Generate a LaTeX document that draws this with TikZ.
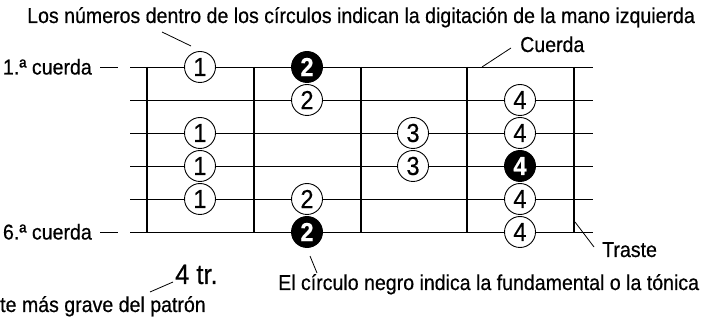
\documentclass[tikz,border=0pt]{standalone}
\usepackage{fontspec}
\setmainfont{Liberation Sans}[FakeStretch=0.91, FakeBold=0.5]
\begin{document}
\begin{tikzpicture}[x=1pt, y=-1pt,
    cuerda/.style={line width=0.9pt},
    traste/.style={line width=1.8pt},
    guia/.style={line width=0.8pt},
    dedo/.style={draw, circle, fill=white, line width=0.9pt, minimum size=31pt,
        inner sep=0pt, font=\fontsize{26}{26}\selectfont},
    raiz/.style={dedo, fill=black, text=white, font=\fontsize{26}{26}\selectfont\bfseries},
    texto/.style={inner sep=0pt, font=\fontsize{21.5}{24}\selectfont}]
    \useasboundingbox (0,0) rectangle (704,320);
    % cuerdas
    \draw[cuerda] (130,67) -- (593,67);
    \draw[cuerda] (130,100) -- (593,100);
    \draw[cuerda] (130,133) -- (593,133);
    \draw[cuerda] (130,166) -- (593,166);
    \draw[cuerda] (130,199) -- (593,199);
    \draw[cuerda] (130,232) -- (593,232);
    % trastes
    \draw[traste] (147,67) -- (147,232);
    \draw[traste] (254,67) -- (254,232);
    \draw[traste] (361,67) -- (361,232);
    \draw[traste] (467,67) -- (467,232);
    \draw[traste] (574,67) -- (574,232);
    % digitacion
    \node[dedo] (c1f1) at (200,67) {1};
    \node[raiz, right of=c1f1, node distance=107pt] (c1f2) {2};
    \node[dedo, below of=c1f2, node distance=33pt] (c2f2) {2};
    \node[dedo, right of=c2f2, node distance=213pt] (c2f4) {4};
    \node[dedo, below of=c1f1, node distance=66pt] (c3f1) {1};
    \node[dedo, right of=c3f1, node distance=213pt] (c3f3) {3};
    \node[dedo, right of=c3f3, node distance=107pt] (c3f4) {4};
    \node[dedo, below of=c3f1, node distance=33pt] (c4f1) {1};
    \node[dedo, below of=c3f3, node distance=33pt] (c4f3) {3};
    \node[raiz, below of=c3f4, node distance=33pt] (c4f4) {4};
    \node[dedo, below of=c4f1, node distance=33pt] (c5f1) {1};
    \node[dedo, right of=c5f1, node distance=107pt] (c5f2) {2};
    \node[dedo, below of=c4f4, node distance=33pt] (c5f4) {4};
    \node[raiz, below of=c5f2, node distance=33pt] (c6f2) {2};
    \node[dedo, below of=c5f4, node distance=33pt] (c6f4) {4};
    % rotulos
    \node[texto, anchor=base west] (numeros) at (27,23)
        {Los números dentro de los círculos indican la digitación de la mano izquierda};
    \node[texto, anchor=base east] (primera) at (92,74.5) {1.ª cuerda};
    \node[texto, anchor=base east] (sexta) at (92,239.5) {6.ª cuerda};
    \node[texto, anchor=base west] (cuerdaTxt) at (520,52) {Cuerda};
    \node[texto, anchor=base west] (trasteTxt) at (602,257) {Traste};
    \node[texto, anchor=base west] (negro) at (278,290)
        {El círculo negro indica la fundamental o la tónica};
    \node[inner sep=0pt, anchor=base west, font=\fontsize{28}{30}\selectfont]
        (cuatro) at (175,284) {4 tr.};
    \node[texto, anchor=base west] (grave) at (0,312) {te más grave del patrón};
    % lineas guia
    \coordinate (gNum1) at (162,32);
    \coordinate (gNum2) at (191,46);
    \draw[guia] (gNum1) -- (gNum2);
    \coordinate (gPri1) at (100,67);
    \coordinate (gPri2) at (118,67);
    \draw[guia] (gPri1) -- (gPri2);
    \coordinate (gSex1) at (100,232);
    \coordinate (gSex2) at (118,232);
    \draw[guia] (gSex1) -- (gSex2);
    \coordinate (gCue1) at (482,67);
    \coordinate (gCue2) at (511,48);
    \draw[guia] (gCue1) -- (gCue2);
    \coordinate (gTra1) at (575,222);
    \coordinate (gTra2) at (594,247);
    \draw[guia] (gTra1) -- (gTra2);
    \coordinate (gNeg1) at (310,256);
    \coordinate (gNeg2) at (317,273);
    \draw[guia] (gNeg1) -- (gNeg2);
    \coordinate (gCua1) at (150,292);
    \coordinate (gCua2) at (173,282);
    \draw[guia] (gCua1) -- (gCua2);
\end{tikzpicture}
\end{document}
